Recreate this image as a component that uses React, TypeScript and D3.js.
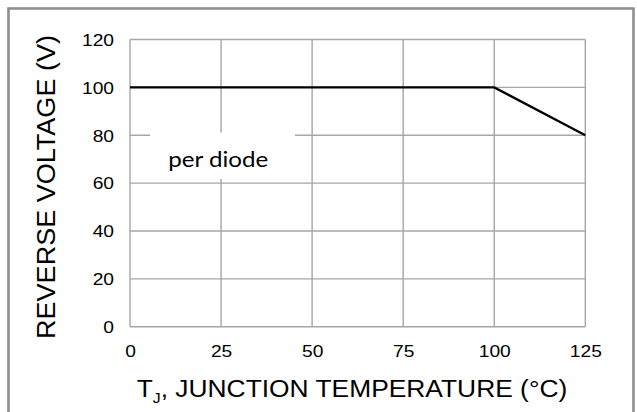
import React from "react";
import * as d3 from "d3";

const tempC = [0, 100, 125];
const voltage = [100, 100, 80];
const xTicks = [0, 25, 50, 75, 100, 125];
const yTicks = [0, 20, 40, 60, 80, 100, 120];
const xTitleMain = "T";
const xTitleSub = "J";
const xTitleRest = ", JUNCTION TEMPERATURE (°C)";
const yTitle = "REVERSE VOLTAGE (V)";
const annotation = "per diode";

const W = 637;
const H = 412;

export default function App() {
  const x = d3.scaleLinear().domain([0, 125]).range([130, 585.3]);
  const y = d3.scaleLinear().domain([0, 120]).range([326.7, 39.5]);
  const line = d3
    .line<number>()
    .x((_, i) => x(tempC[i]))
    .y((d) => y(d));
  const grid = "#a6a6a6";
  const sans = "'Liberation Sans', Arial, sans-serif";
  return (
    <svg
      width={W}
      height={H}
      style={{ position: "absolute", left: 0, top: 0, background: "#fff" }}
    >
      <rect x={8.5} y={8.5} width={625} height={430} fill="#fff" stroke="#8f8f8f" strokeWidth={2.6} />
      {yTicks.map((t) => (
        <line key={"gy" + t} x1={x(0)} x2={x(125)} y1={y(t)} y2={y(t)} stroke={grid} strokeWidth={1.4} />
      ))}
      {xTicks.map((t) => (
        <line key={"gx" + t} x1={x(t)} x2={x(t)} y1={y(0)} y2={y(120)} stroke={grid} strokeWidth={1.4} />
      ))}
      <rect x={150} y={132.5} width={145} height={46.5} fill="#fff" />
      <text
        x={168.3}
        y={166.7}
        fontFamily="Lato, 'Open Sans', sans-serif"
        fontSize={21}
        fill="#000"
        textLength={100}
        lengthAdjust="spacingAndGlyphs"
      >
        {annotation}
      </text>
      <path d={line(voltage) || ""} fill="none" stroke="#000" strokeWidth={2.3} />
      {yTicks.map((t) => (
        <text
          key={"ly" + t}
          transform={`translate(114,${y(t) + 6.3}) scale(1.2,1)`}
          textAnchor="end"
          fontFamily={sans}
          fontSize={16}
          fill="#000"
        >
          {t}
        </text>
      ))}
      {xTicks.map((t) => (
        <text
          key={"lx" + t}
          transform={`translate(${x(t) + 0.5},356.5) scale(1.2,1)`}
          textAnchor="middle"
          fontFamily={sans}
          fontSize={16}
          fill="#000"
        >
          {t}
        </text>
      ))}
      <text
        x={136.7}
        y={396.7}
        fontFamily={sans}
        fontSize={23.5}
        fill="#000"
        textLength={430.6}
        lengthAdjust="spacingAndGlyphs"
      >
        {xTitleMain}
        <tspan fontSize={14} dy={6}>{xTitleSub}</tspan>
        <tspan dy={-6}>{xTitleRest}</tspan>
      </text>
      <text
        transform={`translate(54.5,187) rotate(-90)`}
        textAnchor="middle"
        fontFamily={sans}
        fontSize={25}
        fill="#000"
        textLength={304}
        lengthAdjust="spacingAndGlyphs"
      >
        {yTitle}
      </text>
    </svg>
  );
}
